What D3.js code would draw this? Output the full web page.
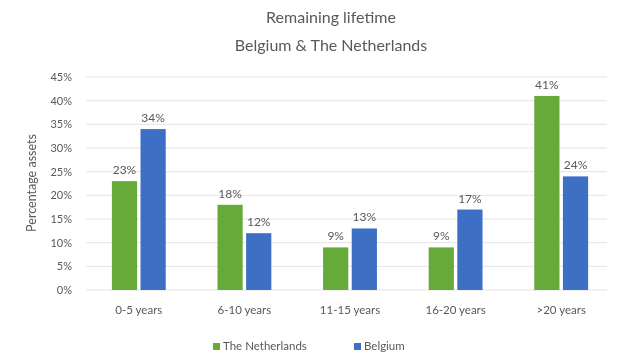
<!DOCTYPE html>
<html>
<head>
<meta charset="utf-8">
<script src="https://cdn.jsdelivr.net/npm/d3@7"></script>
<style>
  html, body { margin: 0; padding: 0; background: #fff; }
  svg { display: block; filter: blur(0.55px); }
  text { font-family: Lato, "Open Sans", sans-serif; fill: #595959; }
</style>
</head>
<body>
<svg id="chart" width="621" height="355"></svg>
<script>
// Share of assets by remaining lifetime
const categories = ["0-5 years", "6-10 years", "11-15 years", "16-20 years", ">20 years"];
const seriesNames = ["The Netherlands", "Belgium"];
const netherlands = [23, 18, 9, 9, 41];
const belgium = [34, 12, 13, 17, 24];
const yTicks = [0, 5, 10, 15, 20, 25, 30, 35, 40, 45];
const colors = ["#66ab3a", "#3d6fc4"];

const svg = d3.select("#chart");
const margin = { left: 86, right: 7, top: 77, bottom: 65 };
const W = 621, H = 355;

const x = d3.scaleBand().domain(categories)
  .range([margin.left, W - margin.right]).paddingInner(0.49).paddingOuter(0.245);
const xs = d3.scaleBand().domain(seriesNames).range([0, x.bandwidth()]).paddingInner(0.12);
const y = d3.scaleLinear().domain([0, 45]).range([H - margin.bottom, margin.top]);

// gridlines
svg.append("g").selectAll("line").data(yTicks).join("line")
  .attr("x1", margin.left).attr("x2", W - 14)
  .attr("y1", d => y(d)).attr("y2", d => y(d))
  .attr("stroke", "#e4e4e4").attr("stroke-width", 1);

// y axis labels
const yAxis = d3.axisLeft(y).tickValues(yTicks).tickFormat(d => d + "%").tickSize(0).tickPadding(0);
const ya = svg.append("g").attr("transform", `translate(${margin.left - 14},0)`).call(yAxis);
ya.select(".domain").remove();
ya.selectAll("text").style("font-size", "11px").attr("fill", "#707070");

// x axis labels
const xAxis = d3.axisBottom(x).tickSize(0).tickPadding(0);
const xa = svg.append("g").attr("transform", `translate(0,${H - margin.bottom + 16})`).call(xAxis);
xa.select(".domain").remove();
xa.selectAll("text").style("font-size", "11.5px").attr("fill", "#606060");

const data = categories.map((c, i) => ({ cat: c, vals: [netherlands[i], belgium[i]] }));

const groups = svg.append("g").selectAll("g").data(data).join("g")
  .attr("transform", d => `translate(${x(d.cat)},0)`);

groups.selectAll("rect").data(d => d.vals.map((v, j) => ({ v, s: seriesNames[j], j }))).join("rect")
  .attr("x", d => xs(d.s)).attr("width", xs.bandwidth())
  .attr("y", d => y(d.v)).attr("height", d => y(0) - y(d.v))
  .attr("fill", d => colors[d.j]);

groups.selectAll("text.lbl").data(d => d.vals.map((v, j) => ({ v, s: seriesNames[j] }))).join("text")
  .attr("class", "lbl")
  .attr("x", d => xs(d.s) + xs.bandwidth() / 2)
  .attr("y", d => y(d.v) - 7)
  .attr("text-anchor", "middle")
  .style("font-size", "12px")
  .text(d => d.v + "%");

// title
svg.append("text").attr("x", 331).attr("y", 23).attr("text-anchor", "middle")
  .style("font-size", "16px").attr("fill", "#595959").text("Remaining lifetime");
svg.append("text").attr("x", 331).attr("y", 51).attr("text-anchor", "middle")
  .style("font-size", "16px").attr("fill", "#595959").text("Belgium & The Netherlands");

// y axis title
svg.append("text").attr("transform", "translate(36,183) rotate(-90)")
  .attr("text-anchor", "middle").style("font-size", "12.5px").text("Percentage assets");

// legend
const legend = svg.append("g").attr("transform", "translate(213,350)");
const items = [{ name: seriesNames[0], x: 0 }, { name: seriesNames[1], x: 141 }];
items.forEach((it, i) => {
  legend.append("rect").attr("x", it.x).attr("y", -7).attr("width", 7).attr("height", 7).attr("fill", colors[i]);
  legend.append("text").attr("x", it.x + 10).attr("y", 0).style("font-size", "11.5px").attr("fill", "#707070").text(it.name);
});
</script>
</body>
</html>
